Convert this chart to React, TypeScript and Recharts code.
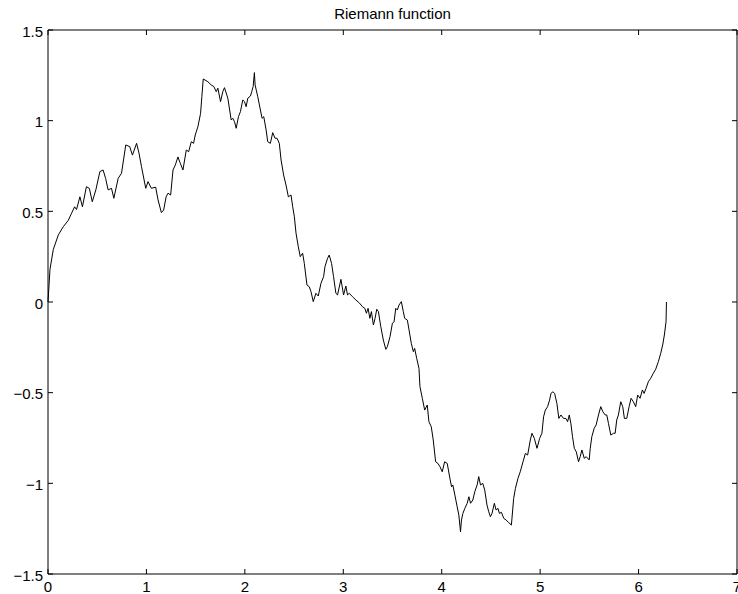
import { Line, LineChart, ReferenceLine, XAxis, YAxis } from 'recharts';

// sampled points of the curve, x in [0, 2π]
const riemannX: number[] = [
  0, 0.02, 0.054, 0.105, 0.155, 0.206, 0.24, 0.27, 0.29, 0.324, 0.35, 0.39, 0.42, 0.45, 0.486,
  0.527, 0.56, 0.585, 0.611, 0.645, 0.669, 0.713, 0.747, 0.79, 0.83, 0.858, 0.9, 0.925, 0.95,
  0.993, 1.016, 1.05, 1.094, 1.118, 1.152, 1.175, 1.2, 1.219, 1.246, 1.27, 1.294, 1.32, 1.344,
  1.371, 1.405, 1.429, 1.456, 1.479, 1.496, 1.523, 1.55, 1.563, 1.577, 1.624, 1.658, 1.685,
  1.709, 1.726, 1.753, 1.776, 1.793, 1.827, 1.861, 1.877, 1.895, 1.912, 1.935, 1.955, 1.979,
  1.996, 2.013, 2.03, 2.057, 2.07, 2.084, 2.097, 2.104, 2.131, 2.158, 2.175, 2.192, 2.216,
  2.232, 2.259, 2.283, 2.307, 2.327, 2.35, 2.368, 2.394, 2.418, 2.442, 2.469, 2.486, 2.503,
  2.52, 2.543, 2.563, 2.587, 2.604, 2.631, 2.655, 2.672, 2.695, 2.722, 2.746, 2.773, 2.8,
  2.814, 2.84, 2.857, 2.881, 2.901, 2.925, 2.942, 2.976, 3.003, 3.026, 3.043, 3.06, 3.094,
  3.128, 3.161, 3.195, 3.219, 3.235, 3.252, 3.27, 3.286, 3.306, 3.323, 3.34, 3.357, 3.381,
  3.407, 3.432, 3.448, 3.475, 3.499, 3.516, 3.533, 3.549, 3.566, 3.59, 3.61, 3.624, 3.651,
  3.668, 3.691, 3.712, 3.725, 3.746, 3.769, 3.779, 3.803, 3.827, 3.853, 3.87, 3.894, 3.914,
  3.938, 3.961, 3.982, 4.005, 4.03, 4.056, 4.083, 4.1, 4.113, 4.134, 4.157, 4.174, 4.191,
  4.201, 4.215, 4.235, 4.259, 4.276, 4.293, 4.316, 4.336, 4.36, 4.376, 4.394, 4.417, 4.437,
  4.46, 4.478, 4.495, 4.511, 4.535, 4.552, 4.572, 4.586, 4.607, 4.63, 4.654, 4.681, 4.708,
  4.721, 4.731, 4.749, 4.775, 4.798, 4.826, 4.85, 4.873, 4.9, 4.917, 4.941, 4.968, 4.995,
  5.018, 5.035, 5.053, 5.076, 5.096, 5.11, 5.13, 5.147, 5.17, 5.19, 5.211, 5.238, 5.261,
  5.279, 5.296, 5.312, 5.329, 5.347, 5.367, 5.39, 5.407, 5.424, 5.448, 5.468, 5.498, 5.509,
  5.525, 5.549, 5.569, 5.593, 5.616, 5.637, 5.661, 5.677, 5.694, 5.718, 5.745, 5.762, 5.778,
  5.795, 5.819, 5.839, 5.856, 5.88, 5.904, 5.924, 5.947, 5.971, 5.991, 6.015, 6.039, 6.056,
  6.076, 6.099, 6.123, 6.15, 6.174, 6.201, 6.225, 6.245, 6.262, 6.279, 6.2832,
];

const riemannY: number[] = [
  0, 0.18, 0.29, 0.37, 0.415, 0.45, 0.49, 0.525, 0.51, 0.58, 0.525, 0.636, 0.627, 0.553, 0.618,
  0.719, 0.728, 0.682, 0.618, 0.627, 0.572, 0.682, 0.71, 0.866, 0.857, 0.81, 0.875, 0.82, 0.746,
  0.627, 0.664, 0.627, 0.633, 0.563, 0.493, 0.507, 0.58, 0.6, 0.59, 0.728, 0.756, 0.8, 0.765,
  0.728, 0.838, 0.829, 0.884, 0.875, 0.921, 0.967, 1.04, 1.132, 1.23, 1.215, 1.197, 1.188,
  1.16, 1.179, 1.105, 1.16, 1.182, 1.124, 1.004, 1.013, 0.994, 0.958, 1.022, 1.05, 1.114,
  1.105, 1.077, 1.124, 1.136, 1.16, 1.188, 1.265, 1.197, 1.132, 1.059, 1.013, 1.022, 0.949,
  0.884, 0.875, 0.934, 0.903, 0.903, 0.875, 0.783, 0.7, 0.645, 0.58, 0.59, 0.526, 0.47,
  0.379, 0.305, 0.25, 0.269, 0.213, 0.094, 0.084, 0.057, 0.002, 0.048, 0.033, 0.103, 0.14,
  0.195, 0.241, 0.259, 0.213, 0.14, 0.048, 0.039, 0.125, 0.039, 0.088, 0.039, 0.048, 0.029,
  0.011, -0.004, -0.026, -0.035, -0.062, -0.035, -0.09, -0.053, -0.127, -0.09, -0.04, -0.053, -0.136,
  -0.21, -0.261, -0.246, -0.191, -0.117, -0.109, -0.035, -0.044, -0.017, 0.002, -0.053, -0.09, -0.1,
  -0.154, -0.228, -0.274, -0.256, -0.311, -0.366, -0.467, -0.531, -0.596, -0.568, -0.66, -0.688, -0.761,
  -0.881, -0.89, -0.908, -0.936, -0.881, -0.89, -0.972, -1.019, -1.009, -1.065, -1.129, -1.175, -1.267,
  -1.202, -1.166, -1.138, -1.11, -1.074, -1.11, -1.092, -1.046, -1.009, -0.963, -1.009, -1.0, -1.037,
  -1.12, -1.157, -1.184, -1.166, -1.11, -1.147, -1.138, -1.166, -1.16, -1.193, -1.202, -1.217, -1.23,
  -1.147, -1.083, -1.028, -0.972, -0.936, -0.881, -0.835, -0.844, -0.761, -0.724, -0.752, -0.807, -0.752,
  -0.724, -0.633, -0.596, -0.577, -0.541, -0.504, -0.495, -0.504, -0.559, -0.642, -0.623, -0.642, -0.642,
  -0.66, -0.623, -0.669, -0.743, -0.807, -0.826, -0.881, -0.853, -0.816, -0.862, -0.853, -0.871, -0.807,
  -0.743, -0.697, -0.678, -0.623, -0.577, -0.605, -0.623, -0.623, -0.669, -0.734, -0.724, -0.724, -0.651,
  -0.623, -0.55, -0.577, -0.642, -0.642, -0.577, -0.531, -0.55, -0.577, -0.513, -0.531, -0.485, -0.504,
  -0.476, -0.44, -0.421, -0.393, -0.371, -0.329, -0.283, -0.237, -0.182, -0.109, 0,
];

const xTicks = [0, 1, 2, 3, 4, 5, 6, 7];
const yTicks = [-1.5, -1, -0.5, 0, 0.5, 1, 1.5];
const title = 'Riemann function';

const data = riemannX.map((x, i) => ({ x, y: riemannY[i] }));

const W = 738;
const H = 594;
const MARGIN = { top: 30, right: 1, bottom: 0, left: 0 };
const PLOT_TOP = MARGIN.top;
const PLOT_RIGHT = W - MARGIN.right;
const TICK_LEN = 5;

const FONT = 'Liberation Sans, Arial, Helvetica, sans-serif';
const minus = (v: number) => String(v).replace('-', '\u2212');

// matlab-style box axes: ticks point inward and repeat on the opposite side
function BottomTick(props: any) {
  const { x, y, payload } = props;
  return (
    <g>
      <line x1={x} x2={x} y1={y} y2={y - TICK_LEN} stroke="#000" />
      <line x1={x} x2={x} y1={PLOT_TOP} y2={PLOT_TOP + TICK_LEN} stroke="#000" />
      <text x={x} y={y + 18} textAnchor="middle" fontSize={15} fontFamily={FONT} fill="#000">
        {minus(payload.value)}
      </text>
    </g>
  );
}

function LeftTick(props: any) {
  const { x, y, payload } = props;
  return (
    <g>
      <line x1={x} x2={x + TICK_LEN} y1={y} y2={y} stroke="#000" />
      <line x1={PLOT_RIGHT - TICK_LEN} x2={PLOT_RIGHT} y1={y} y2={y} stroke="#000" />
      <text x={x - 5} y={y + 6.5} textAnchor="end" fontSize={15} fontFamily={FONT} fill="#000">
        {minus(payload.value)}
      </text>
    </g>
  );
}

export default function App() {
  return (
    <div style={{ position: 'absolute', left: 0, top: 0, width: W, height: H, background: '#fff' }}>
      <LineChart width={W} height={H} data={data} margin={MARGIN}>
        <XAxis
          dataKey="x"
          type="number"
          domain={[0, 7]}
          ticks={xTicks}
          height={20}
          tickSize={0}
          tickMargin={0}
          tick={<BottomTick />}
          tickLine={false}
          axisLine={{ stroke: '#000' }}
          interval={0}
        />
        <YAxis
          type="number"
          domain={[-1.5, 1.5]}
          ticks={yTicks}
          width={48}
          tickSize={0}
          tickMargin={0}
          tick={<LeftTick />}
          tickLine={false}
          axisLine={{ stroke: '#000' }}
          interval={0}
        />
        <ReferenceLine x={7} stroke="#000" strokeWidth={1} />
        <ReferenceLine y={1.5} stroke="#000" strokeWidth={1} />
        <Line
          type="linear"
          dataKey="y"
          stroke="#000"
          strokeWidth={1}
          dot={false}
          isAnimationActive={false}
        />
      </LineChart>
      <div
        style={{
          position: 'absolute',
          left: 48,
          width: 689,
          top: 5,
          textAlign: 'center',
          fontFamily: FONT,
          fontSize: 15,
          lineHeight: '17px',
          color: '#000',
        }}
      >
        {title}
      </div>
    </div>
  );
}
